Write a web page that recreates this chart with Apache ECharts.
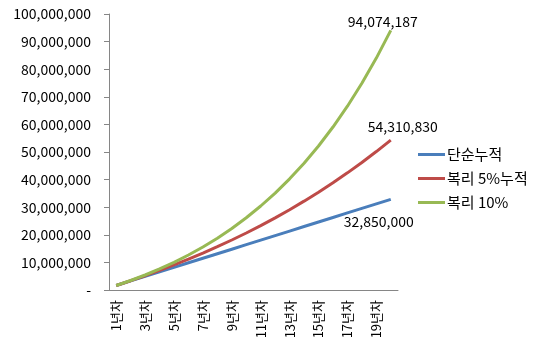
<!DOCTYPE html>
<html>
<head>
<meta charset="utf-8">
<script src="https://cdn.jsdelivr.net/npm/echarts@6/dist/echarts.min.js"></script>
<style>
  html, body { margin: 0; padding: 0; background: #fff; }
  #chart { width: 544px; height: 354px; }
</style>
</head>
<body>
<div id="chart"></div>
<script>
// 연차
var years = ['1년차', '2년차', '3년차', '4년차', '5년차', '6년차', '7년차', '8년차', '9년차', '10년차',
    '11년차', '12년차', '13년차', '14년차', '15년차', '16년차', '17년차', '18년차', '19년차', '20년차'];

// 단순누적
var simpleSum = [1642500, 3285000, 4927500, 6570000, 8212500, 9855000, 11497500, 13140000, 14782500, 16425000,
    18067500, 19710000, 21352500, 22995000, 24637500, 26280000, 27922500, 29565000, 31207500, 32850000];

// 복리 5%누적
var compound5 = [1642500, 3367125, 5177981, 7079380, 9075849, 11172142, 13373249, 15684411, 18111132, 20659188,
    23334648, 26143880, 29093574, 32190753, 35442790, 38857430, 42442801, 46207441, 50160313, 54310830];

// 복리 10%
var compound10 = [1642500, 3449250, 5436675, 7622843, 10027627, 12672890, 15582679, 18783447, 22304292, 26177221,
    30437443, 35123687, 40278556, 45948912, 52186303, 59047433, 66594676, 74896644, 84028808, 94074187];

var seriesNames = ['단순누적', '복리 5%누적', '복리 10%'];

var FONT = 'Noto Sans CJK KR';

function fmt(v) {
    if (v === 0) return '-';
    return String(v).replace(/\B(?=(\d{3})+(?!\d))/g, ',');
}

function lastLabel(extra) {
    var base = {
        show: true,
        color: '#000',
        fontFamily: FONT,
        fontSize: 14,
        formatter: function (p) {
            return p.dataIndex === years.length - 1 ? fmt(p.value) : '';
        }
    };
    for (var k in extra) base[k] = extra[k];
    return base;
}

function lineSeries(name, data, color, label) {
    return {
        name: name,
        type: 'line',
        data: data,
        symbol: 'circle',
        symbolSize: 0,
        showSymbol: true,
        lineStyle: { width: 3, color: color },
        itemStyle: { color: color },
        label: label
    };
}

var chart = echarts.init(document.getElementById('chart'));
chart.setOption({
    animation: false,
    backgroundColor: '#fff',
    grid: { left: 109, top: 14, right: 146, bottom: 64 },
    legend: {
        orient: 'vertical',
        left: 413,
        top: 142,
        itemWidth: 27,
        itemHeight: 3,
        itemGap: 9,
        icon: 'rect',
        textStyle: { fontFamily: FONT, fontSize: 15, color: '#000', padding: [0, 0, 0, -3] },
        data: seriesNames
    },
    xAxis: {
        type: 'category',
        data: years,
        boundaryGap: true,
        axisLine: { lineStyle: { color: '#868686' } },
        axisTick: { interval: 0, length: 6, lineStyle: { color: '#868686' } },
        axisLabel: {
            interval: 1,
            rotate: 90,
            color: '#000',
            fontFamily: FONT,
            fontSize: 13,
            margin: 10
        },
        splitLine: { show: false }
    },
    yAxis: {
        type: 'value',
        min: 0,
        max: 100000000,
        interval: 10000000,
        axisLine: { show: true, lineStyle: { color: '#868686' } },
        axisTick: { show: true, length: 5, lineStyle: { color: '#868686' } },
        axisLabel: {
            color: '#000',
            fontFamily: FONT,
            fontSize: 14,
            margin: 18,
            formatter: fmt
        },
        splitLine: { show: false }
    },
    series: [
        lineSeries(seriesNames[0], simpleSum, '#4A7EBB', lastLabel({ position: 'bottom', distance: 6, offset: [-12, 9] })),
        lineSeries(seriesNames[1], compound5, '#BE4B48', lastLabel({ position: 'top', distance: 5, offset: [12, -1] })),
        lineSeries(seriesNames[2], compound10, '#98B954', lastLabel({ position: 'top', distance: 2, offset: [-8, 0] }))
    ]
});
</script>
</body>
</html>
